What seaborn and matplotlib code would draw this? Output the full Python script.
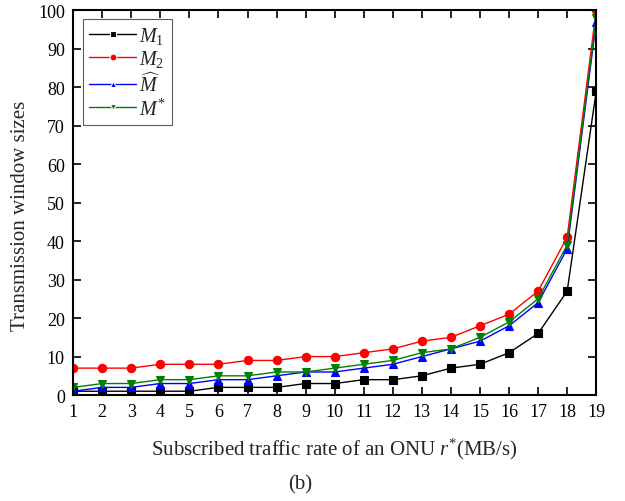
import matplotlib
matplotlib.use("Agg")
import matplotlib.pyplot as plt
import seaborn as sns
import pandas as pd

# ---- data ----
rates = list(range(1, 20))
m1 = [1, 1, 1, 1, 1, 2, 2, 2, 3, 3, 4, 4, 5, 7, 8, 11, 16, 27, 79]
m2 = [7, 7, 7, 8, 8, 8, 9, 9, 10, 10, 11, 12, 14, 15, 18, 21, 27, 41, 100]
m_hat = [1, 2, 2, 3, 3, 4, 4, 5, 6, 6, 7, 8, 10, 12, 14, 18, 24, 38, 97]
m_star = [2, 3, 3, 4, 4, 5, 5, 6, 6, 7, 8, 9, 11, 12, 15, 19, 25, 39, 98]
series_names = [r"$M_1$", r"$M_2$", r"$\widehat{M}$", r"$M^{*}$"]
x_ticks = list(range(1, 20))
y_ticks = list(range(0, 101, 10))

sns.set_theme(style="ticks")
plt.rcParams["font.family"] = ["Liberation Serif", "DejaVu Serif"]
plt.rcParams["mathtext.fontset"] = "custom"
plt.rcParams["mathtext.rm"] = "Liberation Serif"
plt.rcParams["mathtext.it"] = "Liberation Serif:italic"
plt.rcParams["mathtext.bf"] = "Liberation Serif:bold"

df = pd.DataFrame({
    "rate": rates * 4,
    "value": m1 + m2 + m_hat + m_star,
    "series": sum([[n] * len(rates) for n in series_names], []),
})

colors = ["black", "red", "blue", "green"]
markers = ["s", "o", "^", "v"]

fig = plt.figure(figsize=(6.25, 5.02), dpi=100)
ax = fig.add_axes([0.117, 0.211, 0.837, 0.767])

sns.lineplot(data=df, x="rate", y="value", hue="series", style="series",
             palette=dict(zip(series_names, colors)),
             markers=dict(zip(series_names, markers)),
             dashes=False, linewidth=1.0, markersize=6,
             markeredgewidth=0.8, ax=ax)
for line, c in zip(ax.lines, colors):
    line.set_markeredgecolor(c)

ax.set_xlim(1, 19)
ax.set_ylim(0, 100)
ax.set_xticks(x_ticks)
ax.set_yticks(y_ticks)
ax.tick_params(direction="in", length=6, width=1.2, top=True, right=True,
               labelsize=13, colors="black", pad=6)
for s in ax.spines.values():
    s.set_linewidth(1.5)
    s.set_color("black")

ax.set_xlabel(r"Subscribed traffic rate of an ONU $r^{*}$(MB/s)", fontsize=15, labelpad=11)
ax.set_ylabel("Transmission window sizes", fontsize=15, labelpad=6)
ax.yaxis.label.set_y(0.468)

h, l = ax.get_legend_handles_labels()
for hh in h:
    hh.set_markersize(5)
leg = ax.legend(h, l, loc="upper left", bbox_to_anchor=(0.019, 0.977),
                fontsize=14.5, frameon=True, fancybox=False, edgecolor="#333333",
                handlelength=2.35, handletextpad=0.15, borderpad=0.3,
                labelspacing=0.12, borderaxespad=0.0)
leg.get_frame().set_linewidth(0.8)

fig.text(0.48, 0.034, "(b)", fontsize=15, ha="center", va="center")

fig.savefig("out.png", dpi=100)
